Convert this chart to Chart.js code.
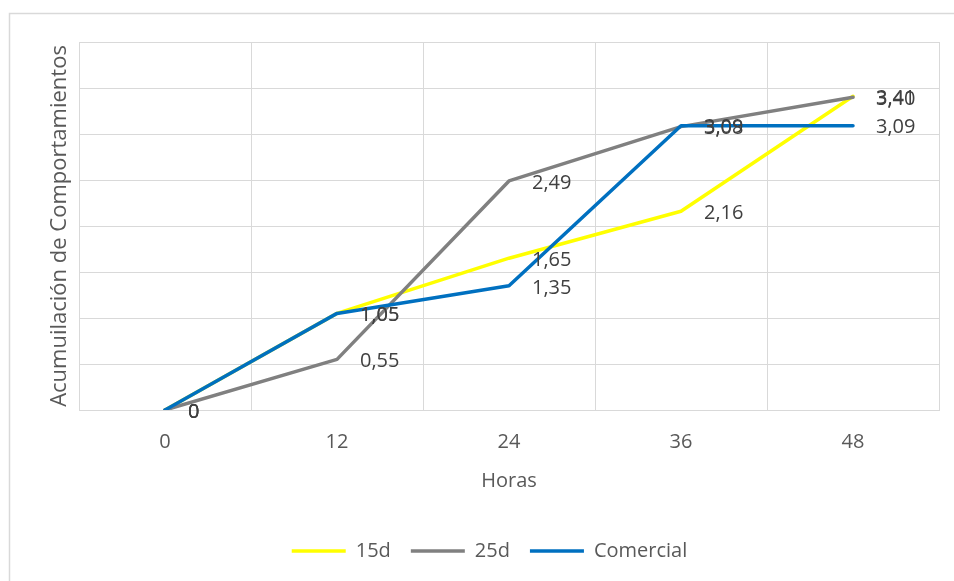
<!DOCTYPE html>
<html>
<head>
<meta charset="utf-8">
<script src="https://cdn.jsdelivr.net/npm/chart.js@4/dist/chart.umd.min.js"></script>
<style>
  html, body { margin: 0; padding: 0; background: #fff; }
  #wrap { width: 954px; height: 581px; }
</style>
</head>
<body>
<div id="wrap"><canvas id="behaviourChart"></canvas></div>
<script>
// hours of observation
const hours = ['0', '12', '24', '36', '48'];

// accumulated behaviours per treatment
const serie15d = [0, 1.05, 1.65, 2.16, 3.41];
const serie25d = [0, 0.55, 2.49, 3.08, 3.40];
const serieComercial = [0, 1.05, 1.35, 3.09, 3.09];

const yMin = 0;
const yMax = 4;
const yStep = 0.5;

const textColor = '#595959';
const gridColor = '#d9d9d9';
const fontFamily = "'Open Sans', 'Liberation Sans', sans-serif";

function formatValue(v) {
    return v === 0 ? '0' : v.toFixed(2).replace('.', ',');
}

// outer frame around the whole chart
const framePlugin = {
    id: 'frame',
    beforeDraw(chart) {
        const ctx = chart.ctx;
        ctx.save();
        ctx.fillStyle = '#fff';
        ctx.fillRect(0, 0, chart.width, chart.height);
        ctx.strokeStyle = '#d9d9d9';
        ctx.lineWidth = 1.5;
        ctx.strokeRect(9.5, 13.5, chart.width + 10, chart.height + 10);
        ctx.restore();
    }
};

// value labels to the right of each point
const valueLabels = {
    id: 'valueLabels',
    afterDatasetsDraw(chart) {
        const ctx = chart.ctx;
        ctx.save();
        ctx.font = '20px ' + fontFamily;
        ctx.fillStyle = '#404040';
        ctx.textAlign = 'left';
        ctx.textBaseline = 'middle';
        chart.data.datasets.forEach((ds, i) => {
            const meta = chart.getDatasetMeta(i);
            meta.data.forEach((pt, j) => {
                ctx.fillText(formatValue(ds.data[j]), pt.x + 23, pt.y + 2);
            });
        });
        ctx.restore();
    }
};

function lineSet(label, data, color, order) {
    return {
        label: label,
        data: data,
        borderColor: color,
        backgroundColor: color,
        borderWidth: 3.5,
        borderJoinStyle: 'round',
        borderCapStyle: 'round',
        pointRadius: 0,
        pointHoverRadius: 0,
        fill: false,
        tension: 0,
        order: order
    };
}

const chart = new Chart(document.getElementById('behaviourChart'), {
    type: 'line',
    data: {
        labels: hours,
        datasets: [
            lineSet('15d', serie15d, '#ffff00', 3),
            lineSet('25d', serie25d, '#808080', 2),
            lineSet('Comercial', serieComercial, '#0070c0', 1)
        ]
    },
    options: {
        responsive: true,
        maintainAspectRatio: false,
        animation: false,
        layout: {
            padding: { left: 40, right: 15, top: 42, bottom: 10 }
        },
        plugins: {
            tooltip: { enabled: false },
            legend: {
                position: 'bottom',
                labels: {
                    usePointStyle: true,
                    pointStyle: 'line',
                    pointStyleWidth: 54,
                    boxHeight: 20,
                    padding: 20,
                    color: textColor,
                    font: { family: fontFamily, size: 20 },
                    sort: (a, b) => a.datasetIndex - b.datasetIndex
                }
            }
        },
        scales: {
            x: {
                offset: true,
                grid: { color: gridColor, offset: true, drawTicks: false },
                border: { color: gridColor },
                ticks: {
                    color: textColor,
                    padding: 20,
                    font: { family: fontFamily, size: 20 }
                },
                title: {
                    display: true,
                    text: 'Horas',
                    color: textColor,
                    font: { family: fontFamily, size: 20 },
                    padding: { top: 0, bottom: 28 }
                },
                afterFit(scale) { scale.height = 111; }
            },
            y: {
                min: yMin,
                max: yMax,
                ticks: { display: false, stepSize: yStep },
                grid: { color: gridColor, drawTicks: false },
                border: { display: false },
                title: {
                    display: true,
                    text: 'Acumuilación de Comportamientos',
                    color: textColor,
                    font: { family: fontFamily, size: 22 },
                    padding: { top: 7, bottom: 0 }
                },
                afterFit(scale) { scale.width = 39; }
            }
        }
    },
    plugins: [framePlugin, valueLabels]
});
</script>
</body>
</html>
